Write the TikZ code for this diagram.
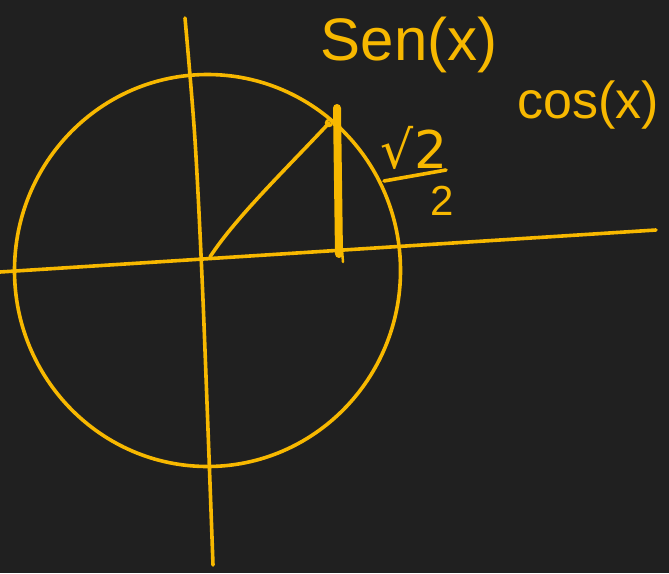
\documentclass[tikz,border=0pt]{standalone}
\usepackage{fontspec}
\setmainfont{Liberation Sans}
\newfontfamily\symfont{DejaVu Sans}
\definecolor{board}{HTML}{202020}
\definecolor{chalk}{HTML}{F7B800}
\begin{document}
\begin{tikzpicture}[x=1pt,y=-1pt,
  pen/.style={draw=chalk,line width=3.6pt,line cap=round,line join=round},
  label/.style={text=chalk,inner sep=0pt}]
\fill[board] (0,0) rectangle (669,573);
\useasboundingbox (0,0) rectangle (669,573);
% circle
\draw[pen] (207.5,270.5) ellipse [x radius=193, y radius=196];
% axes
\coordinate (xl) at (0,272);
\coordinate (xr) at (656,230);
\draw[pen] (xl) -- (xr);
\draw[pen] plot[smooth] coordinates {(185,18) (195,140) (203,300) (213,565)};
% radius line
\coordinate (o) at (210,257);
\coordinate (p) at (329,123);
\draw[pen] (o) .. controls (235,218) and (290,165) .. (p);
\draw[pen,line width=2.5pt] (p) circle (3);
% sine bar
\coordinate (st) at (337,108);
\coordinate (sb) at (339,254);
\draw[pen,line width=8pt] (st) -- (sb);
\draw[pen,line width=2.5pt] (342,250) -- (343,262);
% labels
\node[label,font=\fontsize{60}{70}\selectfont] (sen) at (409,45) {Sen(x)};
\node[label,font=\fontsize{52}{60}\selectfont] (cos) at (588,105) {cos(x)};
\node[label,font=\symfont\fontsize{52}{60}\selectfont] (num) at (414,148) {√2};
\node[label,font=\fontsize{42}{48}\selectfont] (den) at (442,201) {2};
\coordinate (fl) at (384,181);
\coordinate (fr) at (446,170);
\draw[pen] (fl) -- (fr);
\end{tikzpicture}
\end{document}
